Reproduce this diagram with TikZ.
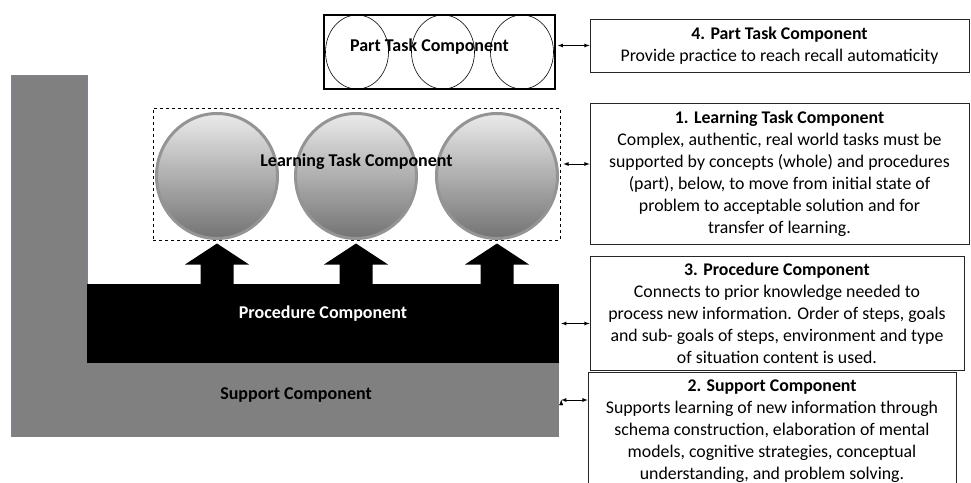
\documentclass[tikz,border=0pt]{standalone}
\usepackage{fontspec}
\setmainfont{Carlito}
\usepackage{tikz}
\usetikzlibrary{positioning,shapes.geometric}
\definecolor{barblue}{RGB}{122,132,150}

\begin{document}
\begin{tikzpicture}[x=1pt,y=-1pt,>=latex,
    ball/.style={ellipse,draw=black!42,line width=3pt,minimum width=121pt,minimum height=125pt,
      top color=black!8,middle color=black!47,bottom color=black!55},
    piece/.style={ellipse,draw,line width=0.6pt,minimum width=63pt,minimum height=74pt},
    desc/.style={draw=black!85,line width=0.8pt,align=center,inner sep=0pt,
      font=\fontsize{17.8}{22}\selectfont},
    lbl/.style={font=\bfseries\fontsize{18}{20}\selectfont}]
    \useasboundingbox (0,0) rectangle (971,482);

    % support and procedure
    \fill[black!50] (11,75) rectangle (88,437);
    \draw[barblue,line width=1pt] (11.5,437) -- (11.5,75.5) -- (87.5,75.5) -- (87.5,284);
    \node[fill=black!50,inner sep=0pt,minimum width=472pt,minimum height=74pt,
      label={[lbl,xshift=-27pt,yshift=5pt]center:Support Component}] (supp) at (323,400) {};
    \node[fill=black,inner sep=0pt,minimum width=472pt,minimum height=79pt,
      label={[lbl,white,yshift=10pt]center:Procedure Component}] (proc) at (323,323.5) {};

    % learning task
    \node[ball] (b1) at (217,176) {};
    \node[ball] (b2) at (356,176) {};
    \node[ball] (b3) at (497,176) {};
    \node[draw,dashed,line width=0.6pt,inner sep=0pt,minimum width=407pt,minimum height=132pt,
      label={[lbl,yshift=12pt]center:Learning Task Component}] (lt) at (356.5,174) {};
    \foreach \b in {b1,b2,b3}
      \fill (\b.south) ++(0,3.5) -- ++(32,21) -- ++(-15.5,0) -- ++(0,22) -- ++(-33,0)
        -- ++(0,-22) -- ++(-15.5,0) -- cycle;

    % part task
    \node[draw,line width=1.5pt,inner sep=0pt,minimum width=231pt,minimum height=74pt,
      label={[lbl,xshift=-10pt,yshift=5pt]center:Part Task Component}] (pt) at (439.5,52) {};
    \node[piece] (p1) at (357,52) {};
    \node[piece] (p2) at (443,52) {};
    \node[piece] (p3) at (522,52) {};

    % descriptions
    \node[desc,minimum width=379pt,minimum height=53pt] (r4) at (779.5,45.5)
      {\textbf{4. Part Task Component}\\Provide practice to reach recall automaticity};
    \node[desc,minimum width=379pt,minimum height=141pt] (r1) at (779.5,173.5)
      {\textbf{1. Learning Task Component}\\Complex, authentic, real world tasks must be\\
       supported by concepts (whole) and procedures\\(part), below, to move from initial state of\\
       problem to acceptable solution and for\\transfer of learning.};
    \node[desc,minimum width=374pt,minimum height=114pt] (r3) at (777,313)
      {\textbf{3. Procedure Component}\\Connects to prior knowledge needed to\\
       process new information. Order of steps, goals\\and sub- goals of steps, environment and type\\
       of situation content is used.};
    \node[desc,minimum width=368pt,minimum height=118pt] (r2) at (772,431)
      {\textbf{2. Support Component}\\Supports learning of new information through\\
       schema construction, elaboration of mental\\models, cognitive strategies, conceptual\\
       understanding, and problem solving.};

    \path[<->,draw,line width=0.8pt]
    ([xshift=2pt]r4.west -| pt.east) edge (r4.west)
    ([shift={(3pt,10pt)}]lt.east) edge ([yshift=10pt]lt.east -| r1.west)
    ([xshift=2pt]proc.east) edge (proc.east -| r3.west)
    ([xshift=2pt]supp.east) edge (supp.east -| r2.west)
    ;
\end{tikzpicture}
\end{document}
